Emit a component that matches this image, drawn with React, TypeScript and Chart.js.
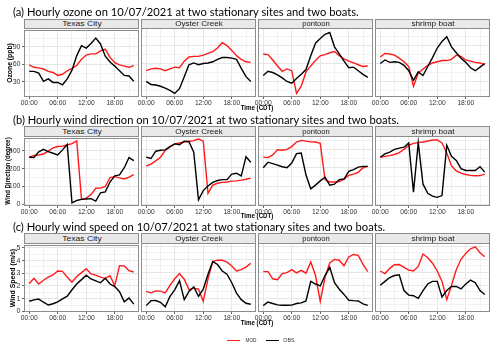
import React, { useEffect, useLayoutEffect, useRef, useState } from 'react';
import { Chart, registerables } from 'chart.js';

Chart.register(...registerables);

// ---------------- data ----------------
const HOURS = [0, 1, 2, 3, 4, 5, 6, 7, 8, 9, 10, 11, 12, 13, 14, 15, 16, 17, 18, 19, 20, 21, 22];
const SITES = ['Texas City', 'Oyster Creek', 'pontoon', 'shrimp boat'];
const X_TICKS = [0, 3, 6, 9, 12, 15, 18, 21];
const X_TICK_LABELS: Record<number, string> = { 0: '00:00', 6: '06:00', 12: '12:00', 18: '18:00' };

const TITLES = [
  '(a) Hourly ozone on 10/07/2021 at two stationary sites and two boats.',
  '(b) Hourly wind direction on 10/07/2021 at two stationary sites and two boats.',
  '(c) Hourly wind speed on 10/07/2021 at two stationary sites and two boats.',
];
const Y_TITLES = ['Ozone (ppb)', 'Wind Direction (degree)', 'Wind Speed (m/s)'];
const X_TITLE = 'Time (CDT)';
const SERIES_NAMES = ['MOD', 'OBS'];

// ozone (ppb)
const ozoneModTexasCity = [59, 55, 54, 52, 48, 46, 41, 43, 49, 53, 58, 69, 76, 78, 78, 83, 86, 72, 63, 59, 57, 55, 58];
const ozoneObsTexasCity = [48, 48, 45, 31, 35, 29, 29, 25, 35, 50, 75, 92, 88, 96, 105, 95, 74, 64, 57, 49, 41, 40, 31];
const ozoneModOysterCreek = [48, 51, 52, 51, 48, 51, 54, 53, 64, 71, 72, 72, 74, 77, 80, 86, 95, 90, 82, 73, 67, 63, 62];
const ozoneObsOysterCreek = [30, 25, 24, 22, 19, 15, 10, 18, 38, 58, 61, 58, 60, 61, 63, 67, 70, 70, 69, 67, 52, 38, 30];
const ozoneModPontoon = [76, 75, 66, 56, 47, 51, 48, 10, 22, 46, 56, 65, 73, 75, 78, 80, 73, 68, 64, 61, 58, 55, 56];
const ozoneObsPontoon = [40, 47, 45, 41, 36, 30, 27, 35, 42, 50, 73, 94, 102, 109, 112, 88, 76, 64, 53, 54, 48, 42, 37];
const ozoneModShrimpBoat = [71, 77, 76, 74, 69, 63, 55, 22, 44, 51, 57, 61, 63, 65, 65, 67, 74, 72, 66, 64, 62, 61, 58];
const ozoneObsShrimpBoat = [60, 66, 62, 63, 62, 57, 48, 32, 46, 40, 55, 70, 86, 97, 105, 88, 78, 69, 62, 53, 48, 54, 60];

// wind direction (degree)
const wdirModTexasCity = [264, 274, 276, 282, 298, 316, 324, 326, 332, 340, 355, 28, 35, 55, 90, 91, 100, 150, 155, 148, 142, 152, 167];
const wdirObsTexasCity = [264, 262, 294, 308, 295, 286, 277, 305, 335, 8, 22, 28, 30, 32, 18, 65, 70, 125, 160, 165, 205, 262, 245];
const wdirModOysterCreek = [209, 220, 237, 257, 295, 313, 330, 335, 340, 344, 348, 356, 345, 60, 105, 115, 120, 122, 127, 128, 132, 137, 143];
const wdirObsOysterCreek = [258, 250, 290, 295, 297, 315, 330, 325, 345, 342, 285, 25, 75, 100, 120, 130, 135, 135, 165, 170, 155, 260, 230];
const wdirModPontoon = [258, 255, 270, 298, 295, 300, 315, 340, 349, 345, 341, 340, 333, 135, 122, 122, 125, 138, 158, 165, 175, 200, 207];
const wdirObsPontoon = [200, 230, 222, 214, 205, 200, 225, 277, 280, 160, 85, 105, 128, 148, 104, 110, 135, 138, 180, 190, 203, 207, 207];
const wdirModShrimpBoat = [256, 262, 266, 272, 282, 300, 322, 333, 337, 340, 346, 351, 352, 335, 280, 210, 183, 170, 163, 158, 156, 157, 165];
const wdirObsShrimpBoat = [257, 275, 285, 300, 307, 312, 335, 67, 336, 110, 60, 45, 38, 48, 322, 262, 240, 195, 185, 185, 185, 205, 176];

// wind speed (m/s)
const wspdModTexasCity = [2.2, 2.6, 2.15, 2.45, 2.7, 2.87, 3.18, 3.15, 2.7, 2.3, 2.75, 3.05, 3.35, 2.95, 2.85, 2.7, 2.6, 2.8, 2.02, 3.6, 3.58, 3.2, 3.1];
const wspdObsTexasCity = [0.8, 0.9, 0.97, 0.72, 0.5, 0.6, 0.75, 0.98, 1.2, 1.7, 2.15, 2.5, 2.85, 2.55, 2.4, 2.25, 2.6, 2.15, 1.95, 1.55, 0.75, 1.05, 0.57];
const wspdModOysterCreek = [1.53, 1.42, 1.57, 1.55, 1.42, 2.0, 2.5, 2.9, 2.47, 1.67, 1.78, 1.7, 0.77, 2.5, 3.83, 3.93, 3.93, 3.78, 3.48, 3.1, 3.2, 3.4, 3.7];
const wspdObsOysterCreek = [0.44, 0.82, 0.83, 0.7, 0.35, 1.15, 1.65, 2.35, 0.9, 1.53, 1.88, 1.15, 1.7, 2.85, 3.82, 3.6, 3.1, 2.85, 2.2, 1.4, 0.9, 0.62, 0.55];
const wspdModPontoon = [3.05, 3.05, 2.5, 2.43, 2.9, 2.97, 3.2, 2.95, 3.15, 2.93, 3.8, 2.75, 0.77, 2.6, 3.72, 3.99, 3.93, 3.5, 4.18, 4.37, 4.3, 3.6, 3.05];
const wspdObsPontoon = [0.44, 0.72, 0.6, 0.5, 0.47, 0.47, 0.48, 0.6, 0.65, 0.8, 2.3, 2.1, 1.95, 2.75, 3.38, 2.2, 1.7, 1.3, 0.85, 0.82, 0.8, 0.58, 0.46];
const wspdModShrimpBoat = [3.1, 2.9, 3.3, 3.58, 3.6, 3.38, 3.17, 3.1, 3.45, 4.4, 4.12, 3.7, 3.1, 2.3, 0.9, 2.0, 3.2, 4.0, 4.45, 4.8, 4.95, 4.5, 4.2];
const wspdObsShrimpBoat = [2.0, 2.3, 2.6, 2.75, 2.8, 1.6, 1.25, 1.2, 1.0, 1.6, 2.1, 2.3, 2.3, 1.1, 1.6, 1.91, 1.91, 1.72, 2.1, 2.4, 2.2, 1.6, 1.3];

// y tick values
const OZONE_MAJOR = [30, 60, 90];
const OZONE_MINOR = [15, 45, 75, 105];
const WDIR_MAJOR = [0, 100, 200, 300];
const WDIR_MINOR = [50, 150, 250, 350];
const WSPD_MAJOR = [0, 1, 2, 3, 4, 5];
const WSPD_MINOR = [0.5, 1.5, 2.5, 3.5, 4.5];

const ROW_SERIES = [
  [
    [ozoneModTexasCity, ozoneObsTexasCity],
    [ozoneModOysterCreek, ozoneObsOysterCreek],
    [ozoneModPontoon, ozoneObsPontoon],
    [ozoneModShrimpBoat, ozoneObsShrimpBoat],
  ],
  [
    [wdirModTexasCity, wdirObsTexasCity],
    [wdirModOysterCreek, wdirObsOysterCreek],
    [wdirModPontoon, wdirObsPontoon],
    [wdirModShrimpBoat, wdirObsShrimpBoat],
  ],
  [
    [wspdModTexasCity, wspdObsTexasCity],
    [wspdModOysterCreek, wspdObsOysterCreek],
    [wspdModPontoon, wspdObsPontoon],
    [wspdModShrimpBoat, wspdObsShrimpBoat],
  ],
];
const ROW_MAJOR = [OZONE_MAJOR, WDIR_MAJOR, WSPD_MAJOR];
const ROW_MINOR = [OZONE_MINOR, WDIR_MINOR, WSPD_MINOR];

// ---------------- layout / style ----------------
const COL_LEFT = [24, 141, 258, 375];
const PANEL_W = 115;
const Y_AXIS_W = 24;
const PAD_R = 8;
const PAD_T = 4;
const X_AXIS_H = 12;
const ROWS = [
  { stripTop: 19, plotTop: 28, plotBottom: 97, yMin: 4, yMax: 119.5, titleY: 10.7, titleW: 346, yTitleX: 10, yTitleW: 40, timeY: 108.3 },
  { stripTop: 126, plotTop: 136, plotBottom: 206, yMin: -9, yMax: 373, titleY: 119.2, titleW: 385.6, yTitleX: 8.3, yTitleW: 67.6, timeY: 215.5 },
  { stripTop: 233, plotTop: 243, plotBottom: 312, yMin: -0.05, yMax: 5.25, titleY: 226, titleW: 372, yTitleX: 13.3, yTitleW: 58.3, timeY: 322.5 },
];
const X_MIN = -1.1;
const X_MAX = 23.1;
const RED = '#ff1a1a';
const BLACK = '#000000';
const GRID_MAJOR = '#e6e6e6';
const GRID_MINOR = '#f2f2f2';
const BORDER = '#8c8c8c';
const TICK_COLOR = '#333333';
const SANS = '"Liberation Sans", Arial, sans-serif';
const TITLE_FONT = 'Lato, "Open Sans", sans-serif';

function makePanelPlugin() {
  return {
    id: 'panelDecor',
    afterDraw(chart: any) {
      const { ctx, chartArea: a } = chart;
      ctx.save();
      ctx.strokeStyle = BORDER;
      ctx.lineWidth = 1;
      const l = Math.round(a.left);
      const t = Math.round(a.top);
      const r = Math.round(a.right);
      const b = Math.round(a.bottom);
      ctx.strokeRect(l + 0.5, t + 0.5, r - l - 1, b - t - 1);
      ctx.restore();
    },
  };
}

type PanelProps = { row: number; col: number };

function Panel({ row, col }: PanelProps) {
  const ref = useRef<HTMLCanvasElement>(null);
  const cfg = ROWS[row];
  const plotH = cfg.plotBottom - cfg.plotTop;
  const W = Y_AXIS_W + PANEL_W + PAD_R;
  const H = PAD_T + plotH + X_AXIS_H;
  useEffect(() => {
    const [mod, obs] = ROW_SERIES[row][col];
    const major = ROW_MAJOR[row];
    const minor = ROW_MINOR[row];
    const showY = col === 0;
    const chart = new Chart(ref.current as HTMLCanvasElement, {
      type: 'line',
      data: {
        datasets: [
          {
            label: SERIES_NAMES[1],
            data: HOURS.map((h, i) => ({ x: h, y: obs[i] })),
            borderColor: BLACK,
            borderWidth: 1.4,
            pointRadius: 0,
            tension: 0,
            fill: false,
            order: 0,
          },
          {
            label: SERIES_NAMES[0],
            data: HOURS.map((h, i) => ({ x: h, y: mod[i] })),
            borderColor: RED,
            borderWidth: 1.4,
            pointRadius: 0,
            tension: 0,
            fill: false,
            order: 1,
          },
        ],
      },
      options: {
        animation: false,
        responsive: false,
        maintainAspectRatio: false,
        devicePixelRatio: 1,
        events: [],
        layout: { padding: { top: PAD_T, right: PAD_R, left: 0, bottom: 0 } },
        plugins: { legend: { display: false }, tooltip: { enabled: false }, title: { display: false } },
        scales: {
          x: {
            type: 'linear',
            min: X_MIN,
            max: X_MAX,
            afterBuildTicks: (s: any) => {
              s.ticks = X_TICKS.map((v) => ({ value: v }));
            },
            afterFit: (s: any) => {
              s.height = X_AXIS_H;
            },
            ticks: {
              autoSkip: false,
              maxRotation: 0,
              minRotation: 0,
              padding: 0,
              color: TICK_COLOR,
              font: { family: SANS, size: 6.7 },
              callback: (v: any) => X_TICK_LABELS[v as number] ?? '',
            },
            grid: {
              color: (c: any) => (c.tick && X_TICK_LABELS[c.tick.value] ? GRID_MAJOR : GRID_MINOR),
              tickColor: (c: any) => (c.tick && X_TICK_LABELS[c.tick.value] ? '#666666' : 'rgba(0,0,0,0)'),
              tickLength: 2,
              drawTicks: true,
              lineWidth: 1,
            },
            border: { display: false },
          },
          y: {
            type: 'linear',
            position: 'left',
            min: cfg.yMin,
            max: cfg.yMax,
            afterBuildTicks: (s: any) => {
              s.ticks = [...major, ...minor].sort((p, q) => p - q).map((v) => ({ value: v }));
            },
            afterFit: (s: any) => {
              s.width = Y_AXIS_W;
            },
            ticks: {
              display: showY,
              autoSkip: false,
              padding: 1.5,
              color: TICK_COLOR,
              font: { family: SANS, size: 7 },
              callback: (v: any) => (major.indexOf(Number(v)) >= 0 ? String(v) : ''),
            },
            grid: {
              color: (c: any) => (c.tick && major.includes(c.tick.value) ? GRID_MAJOR : GRID_MINOR),
              tickColor: (c: any) => (c.tick && major.includes(c.tick.value) ? '#666666' : 'rgba(0,0,0,0)'),
              tickLength: 2,
              drawTicks: showY,
              lineWidth: 1,
            },
            border: { display: false },
          },
        },
      } as any,
      plugins: [makePanelPlugin()],
    });
    return () => chart.destroy();
  }, [row, col]);
  return (
    <canvas
      ref={ref}
      width={W}
      height={H}
      style={{
        position: 'absolute',
        left: COL_LEFT[col] - Y_AXIS_W,
        top: cfg.plotTop - PAD_T,
        width: W,
        height: H,
        zIndex: col === 0 ? 2 : 1,
      }}
    />
  );
}

type TxtProps = {
  text: string;
  x: number;
  y: number;
  w: number;
  size: number;
  family: string;
  weight?: number | string;
  color?: string;
  align?: 'left' | 'center';
  rot?: boolean;
};

function Txt({ text, x, y, w, size, family, weight = 400, color = '#000', align = 'center', rot = false }: TxtProps) {
  const ref = useRef<HTMLSpanElement>(null);
  const [s, setS] = useState(1);
  const measure = () => {
    const el = ref.current;
    if (!el) return;
    const nat = el.offsetWidth;
    if (nat > 0) setS(w / nat);
  };
  useLayoutEffect(() => {
    measure();
    const f = (document as any).fonts;
    if (f && f.ready) f.ready.then(measure);
  }, [text, w]);
  let transform: string;
  let origin = 'center center';
  if (rot) transform = `translate(-50%,-50%) rotate(-90deg) scaleX(${s})`;
  else if (align === 'center') transform = `translate(-50%,-50%) scaleX(${s})`;
  else {
    transform = `translateY(-50%) scaleX(${s})`;
    origin = 'left center';
  }
  return (
    <span
      ref={ref}
      style={{
        position: 'absolute',
        left: x,
        top: y,
        whiteSpace: 'nowrap',
        fontFamily: family,
        fontSize: size,
        fontWeight: weight as any,
        lineHeight: `${size}px`,
        color,
        transform,
        transformOrigin: origin,
        zIndex: 3,
      }}
    >
      {text}
    </span>
  );
}

export default function App() {
  const panelCenter = (COL_LEFT[0] + COL_LEFT[3] + PANEL_W) / 2;
  return (
    <div
      style={{
        position: 'absolute',
        left: 0,
        top: 0,
        width: 500,
        height: 349,
        background: '#ffffff',
        overflow: 'hidden',
      }}
    >
      {ROWS.map((r, ri) => (
        <React.Fragment key={ri}>
          {SITES.map((site, ci) => (
            <React.Fragment key={ci}>
              <Panel row={ri} col={ci} />
              <div
                style={{
                  position: 'absolute',
                  left: COL_LEFT[ci],
                  top: r.stripTop,
                  width: PANEL_W,
                  height: r.plotTop - r.stripTop + 1,
                  boxSizing: 'border-box',
                  border: `1px solid ${BORDER}`,
                  background: '#e9e9e9',
                  zIndex: 3,
                }}
              />
              <Txt
                text={site}
                x={COL_LEFT[ci] + PANEL_W / 2}
                y={(r.stripTop + r.plotTop) / 2 + 0.5}
                w={site.length * 3.95}
                size={8}
                family={SANS}
                color="#1a1a1a"
              />
            </React.Fragment>
          ))}
          <Txt text={TITLES[ri]} x={12.7} y={r.titleY} w={r.titleW} size={11} family={TITLE_FONT} align="left" />
          <Txt text={Y_TITLES[ri]} x={r.yTitleX} y={(r.plotTop + r.plotBottom) / 2} w={r.yTitleW} size={6.8} family={SANS} weight={700} rot />
          <Txt text={X_TITLE} x={panelCenter} y={r.timeY} w={33} size={6.5} family={SANS} weight={700} />
        </React.Fragment>
      ))}
      {/* legend */}
      <div style={{ position: 'absolute', left: 227, top: 339.5, width: 12.5, height: 1.5, background: RED }} />
      <Txt text={SERIES_NAMES[0]} x={250.5} y={340.2} w={11} size={6} family={SANS} color="#333333" />
      <div style={{ position: 'absolute', left: 266, top: 339.5, width: 12.5, height: 1.5, background: BLACK }} />
      <Txt text={SERIES_NAMES[1]} x={289.2} y={340.2} w={11.7} size={6} family={SANS} color="#333333" />
    </div>
  );
}
